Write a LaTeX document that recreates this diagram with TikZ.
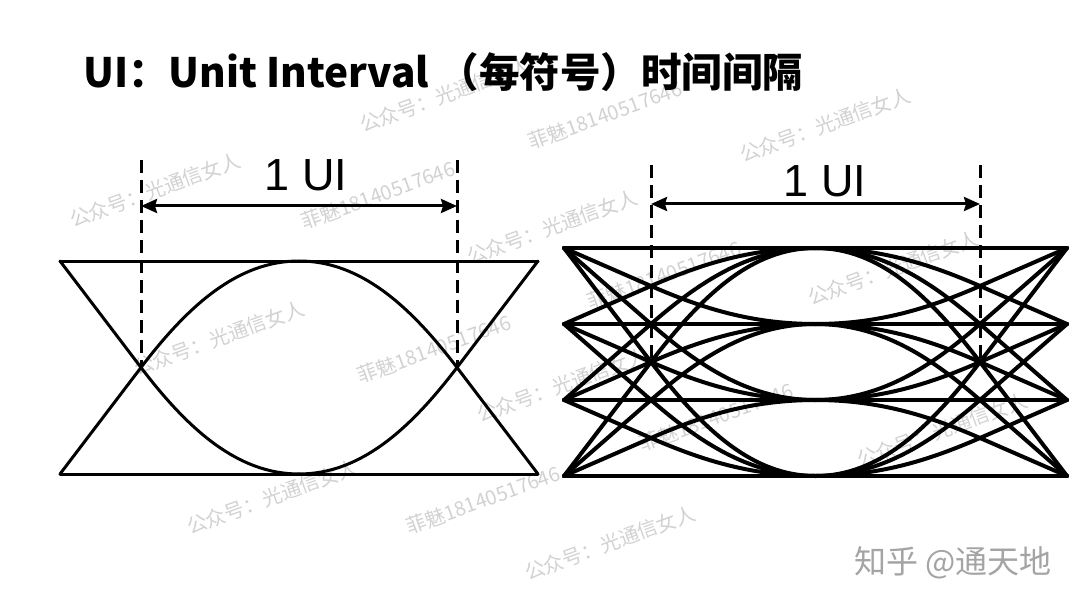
\documentclass[tikz,border=0pt]{standalone}
\usepackage{fontspec}
\setmainfont{Liberation Sans}
\newfontfamily\cjk{Noto Sans CJK SC}
\usetikzlibrary{arrows.meta}
\definecolor{wmgray}{HTML}{D2D2D2}
\definecolor{zhgray}{HTML}{A4A4A4}
% half of an eye trajectory: #1 corner x, #2 crossing x, #3 centre x, #4 start level, #5 end level, #6 style
\newcommand{\eyehalf}[6]{%
  \pgfmathsetmacro\ymid{(#4+#5)/2}%
  \pgfmathsetmacro\cxa{#2+0.6*(#2-#1)}%
  \pgfmathsetmacro\cya{\ymid+0.6*(\ymid-#4)}%
  \pgfmathsetmacro\cxb{#3-0.38*(#3-#2)}%
  \draw[#6] (#1,#4) -- (#2,\ymid) .. controls (\cxa,\cya) and (\cxb,#5) .. (#3,#5);%
}
\begin{document}
\begin{tikzpicture}[x=1pt,y=-1pt,
  wm/.style={text=wmgray,font=\cjk\fontsize{20}{20}\selectfont,rotate=20,inner sep=0pt},
  eyeL/.style={line width=3pt,line cap=round,line join=round},
  eyeR/.style={line width=4pt,line cap=round,line join=round},
  uiline/.style={line width=3pt,dash pattern=on 13pt off 7pt},
  dimline/.style={line width=3pt,{Stealth[length=16pt,width=14pt,inset=2pt]}-{Stealth[length=16pt,width=14pt,inset=2pt]}},
  uilabel/.style={font=\fontsize{45}{45}\selectfont,inner sep=0pt}]
\useasboundingbox (0,0) rectangle (1080,607);
\fill[white] (0,0) rectangle (1080,607);

% watermarks
\node[wm] (w1) at (155,190) {公众号：光通信女人};
\node[wm] (w2) at (378,195) {菲魅18140517646};
\node[wm] (w3) at (445,95) {公众号：光通信女人};
\node[wm] (w4) at (605,115) {菲魅18140517646};
\node[wm] (w5) at (825,125) {公众号：光通信女人};
\node[wm] (w6) at (552,227) {公众号：光通信女人};
\node[wm] (w7) at (664,275) {菲魅18140517646};
\node[wm] (w8) at (893,268) {公众号：光通信女人};
\node[wm] (w9) at (219,338) {公众号：光通信女人};
\node[wm] (w10) at (434,349) {菲魅18140517646};
\node[wm] (w11) at (272,497) {公众号：光通信女人};
\node[wm] (w12) at (483,500) {菲魅18140517646};
\node[wm] (w13) at (610,543) {公众号：光通信女人};
\node[wm] (w14) at (562,385) {公众号：光通信女人};
\node[wm] (w15) at (716,417) {菲魅18140517646};
\node[wm] (w16) at (942,430) {公众号：光通信女人};
\node[text=zhgray,font=\cjk\fontsize{32}{32}\selectfont,inner sep=0pt] (zh) at (953,563) {知乎 @通天地};

% title
\node[anchor=west,font=\cjk\bfseries\fontsize{40.5}{40.5}\selectfont,inner sep=0pt] (title) at (83,72) {UI：Unit Interval （每符号）时间间隔};

% ---------- left eye (binary) ----------
\foreach \a in {261,474}{
  \foreach \b in {261,474}{
    \ifnum\a=\b\relax\else
      \eyehalf{60}{141}{299}{\a}{\b}{eyeL}
      \eyehalf{538}{457}{299}{\a}{\b}{eyeL}
    \fi
  }
  \draw[eyeL] (60,\a) -- (538,\a);
}
\coordinate (l1t) at (141,160); \coordinate (l1b) at (141,367);
\coordinate (l2t) at (457,160); \coordinate (l2b) at (457,367);
\draw[uiline] (l1t) -- (l1b);
\draw[uiline] (l2t) -- (l2b);
\coordinate (la) at (141,206); \coordinate (lb) at (457,206);
\draw[dimline] (la) -- (lb);
\node[uilabel] (lui) at (306,175) {1 UI};

% ---------- right eye (PAM4) ----------
\foreach \a in {248,324,400,476}{
  \foreach \b in {248,324,400,476}{
    \ifnum\a=\b\relax\else
      \eyehalf{564}{651}{815.5}{\a}{\b}{eyeR}
      \eyehalf{1067}{980}{815.5}{\a}{\b}{eyeR}
    \fi
  }
  \draw[eyeR] (564,\a) -- (1067,\a);
}
\coordinate (r1t) at (651,165); \coordinate (r1b) at (651,362);
\coordinate (r2t) at (980,165); \coordinate (r2b) at (980,362);
\draw[uiline] (r1t) -- (r1b);
\draw[uiline] (r2t) -- (r2b);
\coordinate (ra) at (651,204); \coordinate (rb) at (980,204);
\draw[dimline] (ra) -- (rb);
\node[uilabel] (rui) at (825,181) {1 UI};
\end{tikzpicture}
\end{document}
